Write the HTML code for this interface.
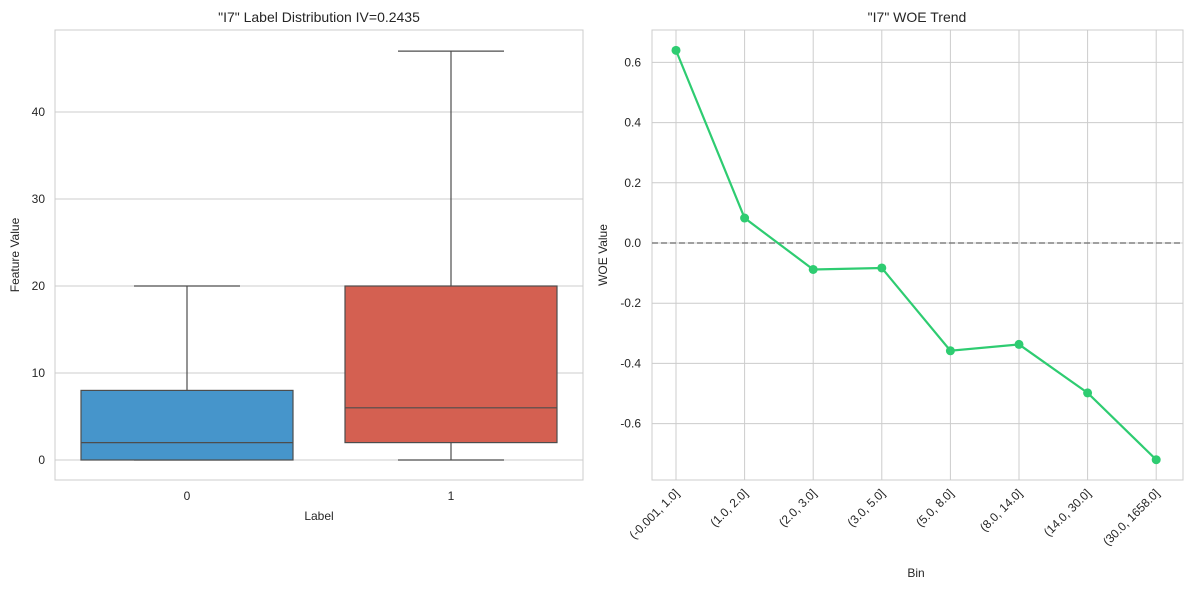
<!DOCTYPE html>
<html><head><meta charset="utf-8"><style>
body{margin:0;background:#fff;font-family:"Liberation Sans",sans-serif;}
svg text{font-family:"Liberation Sans",sans-serif;fill:#262626;}
</style></head><body>
<svg id="c" width="1189" height="590" xmlns="http://www.w3.org/2000/svg"></svg>
<script>
const boxLabels=["0","1"];
const boxQ1=[0,2];
const boxMed=[2,6];
const boxQ3=[8,20];
const boxLo=[0,0];
const boxHi=[20,47];
const boxColors=["#4695cb","#d46051"];
const leftTicks=[0,10,20,30,40];
const bins=["(-0.001, 1.0]","(1.0, 2.0]","(2.0, 3.0]","(3.0, 5.0]","(5.0, 8.0]","(8.0, 14.0]","(14.0, 30.0]","(30.0, 1658.0]"];
const woe=[0.64,0.083,-0.088,-0.083,-0.358,-0.337,-0.498,-0.72];
const rightTicks=[0.6,0.4,0.2,0.0,-0.2,-0.4,-0.6];

const svg=document.getElementById('c');
const NS="http://www.w3.org/2000/svg";
function el(t,a,txt){const e=document.createElementNS(NS,t);for(const k in a)e.setAttribute(k,a[k]);if(txt!==undefined)e.textContent=txt;svg.appendChild(e);return e;}

// Left
const L={x0:55,x1:583,y0:30,y1:480};
const ly=v=>460-v*8.7;
const lx=i=>187+i*264;
for(const t of leftTicks){
 let g=el('line',{x1:L.x0,x2:L.x1,y1:ly(t),y2:ly(t),stroke:'#cccccc','stroke-width':1});
 
 let tx=el('text',{x:L.x0-10,y:ly(t)+4,'text-anchor':'end','font-size':12},String(t));
 
}
let lf=el('rect',{x:L.x0,y:L.y0,width:L.x1-L.x0,height:L.y1-L.y0,fill:'none',stroke:'#cccccc'});

boxLabels.forEach((lab,i)=>{
 const c=lx(i),w=106;
 let a=el('line',{x1:c,x2:c,y1:ly(boxHi[i]),y2:ly(boxQ3[i]),stroke:'#4d4d4d','stroke-width':1.2});
 
 let b=el('line',{x1:c,x2:c,y1:ly(boxQ1[i]),y2:ly(boxLo[i]),stroke:'#4d4d4d','stroke-width':1.2});
 
 let cap1=el('line',{x1:c-53,x2:c+53,y1:ly(boxHi[i]),y2:ly(boxHi[i]),stroke:'#4d4d4d','stroke-width':1.2});
 
 let cap2=el('line',{x1:c-53,x2:c+53,y1:ly(boxLo[i]),y2:ly(boxLo[i]),stroke:'#4d4d4d','stroke-width':1.2});
 
 let r=el('rect',{x:c-w,y:ly(boxQ3[i]),width:2*w,height:ly(boxQ1[i])-ly(boxQ3[i]),fill:boxColors[i],stroke:'#4d4d4d','stroke-width':1.2});
 
 let m=el('line',{x1:c-w,x2:c+w,y1:ly(boxMed[i]),y2:ly(boxMed[i]),stroke:'#4d4d4d','stroke-width':1.2});
 
 let t=el('text',{x:c,y:500,'text-anchor':'middle','font-size':12},lab);
 
});
let lt=el('text',{x:319,y:22,'text-anchor':'middle','font-size':14},'"I7" Label Distribution IV=0.2435');

let lxl=el('text',{x:319,y:520,'text-anchor':'middle','font-size':12},'Label');

let lyl=el('text',{x:19,y:255,'text-anchor':'middle','font-size':12,transform:'rotate(-90 19 255)'},'Feature Value');


// Right
const R={x0:652,x1:1183,y0:30,y1:480};
const ry=v=>243-v*301;
const rx=i=>676+i*68.6;
for(const t of rightTicks){
 let g=el('line',{x1:R.x0,x2:R.x1,y1:ry(t),y2:ry(t),stroke:'#cccccc'});
 
 let tx=el('text',{x:R.x0-11,y:ry(t)+4,'text-anchor':'end','font-size':12},t.toFixed(1));
 
}
bins.forEach((b,i)=>{
 let g=el('line',{x1:rx(i),x2:rx(i),y1:R.y0,y2:R.y1,stroke:'#cccccc'});
 
 let t=el('text',{x:rx(i)+4,y:494,'text-anchor':'end','font-size':12,transform:`rotate(-45 ${rx(i)+4} 494)`},b);
 
});
let rf=el('rect',{x:R.x0,y:R.y0,width:R.x1-R.x0,height:R.y1-R.y0,fill:'none',stroke:'#cccccc'});

let zl=el('line',{x1:R.x0,x2:R.x1,y1:ry(0),y2:ry(0),stroke:'#808080','stroke-width':1.5,'stroke-dasharray':'6,3'});

let pl=el('polyline',{points:woe.map((v,i)=>rx(i)+','+ry(v)).join(' '),fill:'none',stroke:'#2ecc71','stroke-width':2.2});

woe.forEach((v,i)=>{
 let p=el('circle',{cx:rx(i),cy:ry(v),r:4.5,fill:'#2ecc71'});
 
});
let rt=el('text',{x:917,y:22,'text-anchor':'middle','font-size':14},'"I7" WOE Trend');

let rxl=el('text',{x:916,y:577,'text-anchor':'middle','font-size':12},'Bin');

let ryl=el('text',{x:607,y:255,'text-anchor':'middle','font-size':12,transform:'rotate(-90 607 255)'},'WOE Value');

</script>
</body></html>
